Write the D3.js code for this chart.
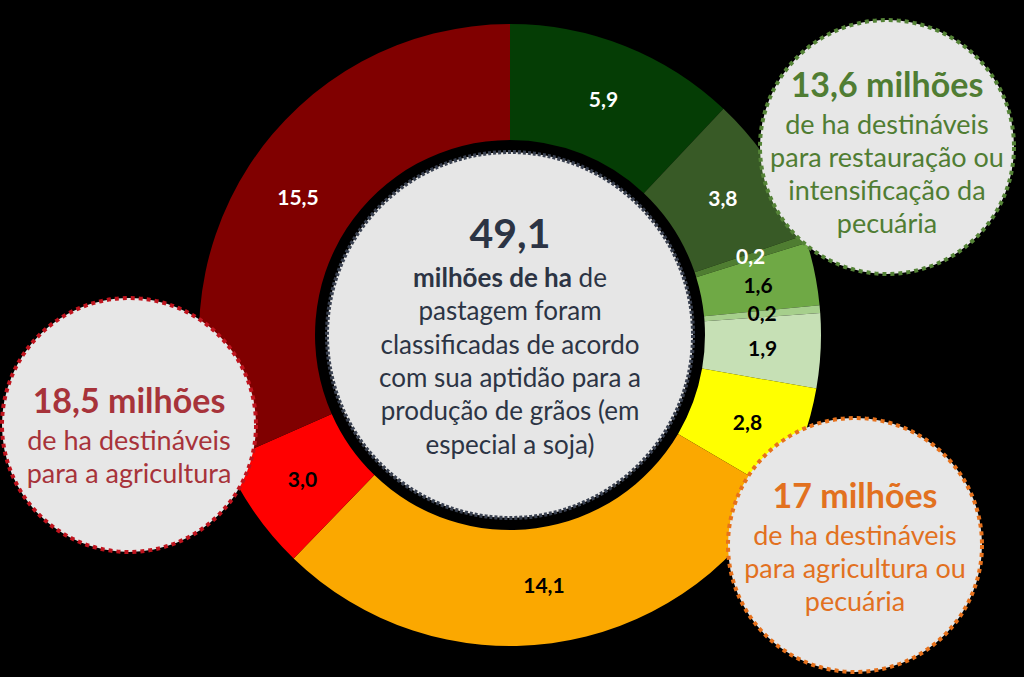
<!DOCTYPE html>
<html>
<head>
<meta charset="utf-8">
<script src="https://cdn.jsdelivr.net/npm/d3@7"></script>
<style>
  html, body { margin: 0; padding: 0; background: #000; }
  svg { display: block; font-family: Lato, "Open Sans", sans-serif; }
</style>
</head>
<body>
<script>
var width = 1024;
var height = 677;

// slices, clockwise from 12 o'clock
var values = [5.9, 3.8, 0.2, 1.6, 0.2, 1.9, 2.8, 14.1, 3.0, 15.5];
var labels = ["5,9", "3,8", "0,2", "1,6", "0,2", "1,9", "2,8", "14,1", "3,0", "15,5"];
var colors = ["#053d05", "#385a26", "#4f7d31", "#6fa945", "#a6cf8c", "#c6e0b5",
              "#ffff00", "#fba800", "#ff0000", "#800000"];
var labelColors = ["#fff", "#fff", "#fff", "#000", "#000", "#000", "#000", "#000", "#000", "#fff"];

var centerTitle = "49,1";
var centerLines = ["milhões de ha| de", "pastagem foram", "classificadas de acordo",
                   "com sua aptidão para a", "produção de grãos (em", "especial a soja)"];

var callouts = [
  {title: "13,6 milhões", lines: ["de ha destináveis", "para restauração ou", "intensificação da", "pecuária"],
   cx: 887, cy: 147, ty: -50, color: "#507d33", stroke: "#558437"},
  {title: "18,5 milhões", lines: ["de ha destináveis", "para a agricultura"],
   cx: 129, cy: 425, ty: -12, color: "#a7333a", stroke: "#c0141e"},
  {title: "17 milhões", lines: ["de ha destináveis", "para agricultura ou", "pecuária"],
   cx: 855, cy: 545, ty: -37, color: "#e2711f", stroke: "#e6711c"}
];

var cx = 510, cy = 335;
var outerR = 311, innerR = 195;

var svg = d3.select("body")
  .append("svg")
  .attr("width", width)
  .attr("height", height);

svg.append("rect").attr("width", width).attr("height", height).attr("fill", "#000");

var pie = d3.pie().sort(null).value(function(d) { return d; });
var arc = d3.arc().innerRadius(innerR).outerRadius(outerR);
var labelArc = d3.arc().innerRadius((innerR + outerR) / 2).outerRadius((innerR + outerR) / 2);

var donut = svg.append("g").attr("transform", "translate(" + cx + "," + cy + ")");
var arcs = pie(values);

donut.selectAll("path")
  .data(arcs)
  .enter()
  .append("path")
    .attr("d", arc)
    .attr("fill", function(d, i) { return colors[i]; });

donut.selectAll("text.val")
  .data(arcs)
  .enter()
  .append("text")
    .attr("class", "val")
    .attr("transform", function(d) { return "translate(" + labelArc.centroid(d) + ")"; })
    .attr("text-anchor", "middle")
    .attr("dy", "0.36em")
    .attr("font-size", 21)
    .attr("font-weight", "bold")
    .attr("fill", function(d, i) { return labelColors[i]; })
    .text(function(d, i) { return labels[i]; });

// center circle
donut.append("circle")
  .attr("r", 183)
  .attr("fill", "#e6e6e6")
  .attr("stroke", "#3a4150")
  .attr("stroke-width", 4)
  .attr("stroke-dasharray", "3,2");

donut.append("text")
  .attr("x", 0).attr("y", 248 - cy)
  .attr("text-anchor", "middle")
  .attr("font-size", 41)
  .attr("font-weight", "bold")
  .attr("fill", "#2c3444")
  .text(centerTitle);

centerLines.forEach(function(line, i) {
  var t = donut.append("text")
    .attr("x", 0).attr("y", 287 - cy + i * 33.3)
    .attr("text-anchor", "middle")
    .attr("font-size", 26)
    .attr("fill", "#2c3444");
  var parts = line.split("|");
  if (parts.length > 1) {
    t.append("tspan").attr("font-weight", "bold").text(parts[0]);
    t.append("tspan").text(parts[1]);
  } else {
    t.text(line);
  }
});

// callout bubbles
callouts.forEach(function(c) {
  var g = svg.append("g").attr("transform", "translate(" + c.cx + "," + c.cy + ")");
  g.append("circle")
    .attr("r", 127)
    .attr("fill", "#e7e7e7")
    .attr("stroke", c.stroke)
    .attr("stroke-width", 4)
    .attr("stroke-dasharray", "4,4");
  g.append("text")
    .attr("x", 0).attr("y", c.ty)
    .attr("text-anchor", "middle")
    .attr("font-size", 34)
    .attr("font-weight", "bold")
    .attr("fill", c.color)
    .text(c.title);
  c.lines.forEach(function(line, i) {
    g.append("text")
      .attr("x", 0).attr("y", c.ty + 37 + i * 33)
      .attr("text-anchor", "middle")
      .attr("font-size", 27)
      .attr("fill", c.color)
      .text(line);
  });
});
</script>
</body>
</html>
